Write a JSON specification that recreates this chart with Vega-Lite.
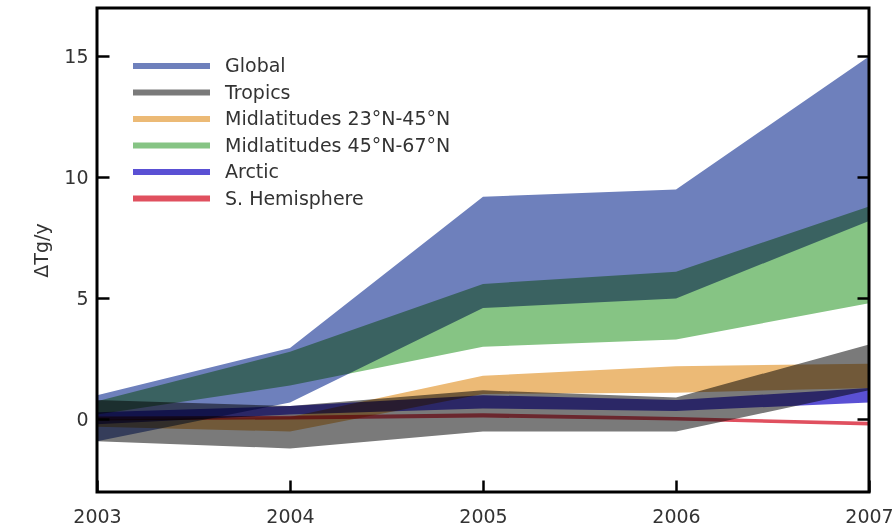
{
  "$schema": "https://vega.github.io/schema/vega-lite/v6.json",
  "width": 772,
  "height": 484,
  "autosize": {"type": "none"},
  "padding": {"left": 97, "top": 8, "right": 24, "bottom": 35},
  "background": "white",
  "config": {
    "view": {"stroke": "black", "strokeWidth": 3},
    "font": "DejaVu Sans",
    "axis": {
      "grid": false,
      "domain": false,
      "tickColor": "black",
      "tickWidth": 2.5,
      "labelFont": "DejaVu Sans",
      "labelFontSize": 19,
      "labelColor": "#333333",
      "titleFont": "DejaVu Sans",
      "titleFontSize": 19,
      "titleFontWeight": "normal",
      "titleColor": "#333333"
    }
  },
  "data": {
    "values": [
      {"region": "Global", "year": 2003, "lo": -0.9, "hi": 1.0},
      {"region": "Global", "year": 2004, "lo": 0.7, "hi": 2.95},
      {"region": "Global", "year": 2005, "lo": 4.6, "hi": 9.2},
      {"region": "Global", "year": 2006, "lo": 5.0, "hi": 9.5},
      {"region": "Global", "year": 2007, "lo": 8.2, "hi": 15.0},
      {"region": "Tropics", "year": 2003, "lo": -0.9, "hi": 0.8},
      {"region": "Tropics", "year": 2004, "lo": -1.2, "hi": 0.55},
      {"region": "Tropics", "year": 2005, "lo": -0.5, "hi": 1.2},
      {"region": "Tropics", "year": 2006, "lo": -0.5, "hi": 0.9},
      {"region": "Tropics", "year": 2007, "lo": 1.2, "hi": 3.1},
      {"region": "Midlatitudes 23°N-45°N", "year": 2003, "lo": -0.3, "hi": 0.0},
      {"region": "Midlatitudes 23°N-45°N", "year": 2004, "lo": -0.5, "hi": 0.1},
      {"region": "Midlatitudes 23°N-45°N", "year": 2005, "lo": 1.05, "hi": 1.8},
      {"region": "Midlatitudes 23°N-45°N", "year": 2006, "lo": 1.1, "hi": 2.2},
      {"region": "Midlatitudes 23°N-45°N", "year": 2007, "lo": 1.3, "hi": 2.3},
      {"region": "Midlatitudes 45°N-67°N", "year": 2003, "lo": 0.2, "hi": 0.75},
      {"region": "Midlatitudes 45°N-67°N", "year": 2004, "lo": 1.4, "hi": 2.8},
      {"region": "Midlatitudes 45°N-67°N", "year": 2005, "lo": 3.0, "hi": 5.6},
      {"region": "Midlatitudes 45°N-67°N", "year": 2006, "lo": 3.3, "hi": 6.1},
      {"region": "Midlatitudes 45°N-67°N", "year": 2007, "lo": 4.8, "hi": 8.8},
      {"region": "Arctic", "year": 2003, "lo": -0.2, "hi": 0.3},
      {"region": "Arctic", "year": 2004, "lo": 0.2, "hi": 0.55},
      {"region": "Arctic", "year": 2005, "lo": 0.45, "hi": 1.0},
      {"region": "Arctic", "year": 2006, "lo": 0.35, "hi": 0.8},
      {"region": "Arctic", "year": 2007, "lo": 0.7, "hi": 1.3},
      {"region": "S. Hemisphere", "year": 2003, "lo": -0.05, "hi": 0.12},
      {"region": "S. Hemisphere", "year": 2004, "lo": 0.0, "hi": 0.15},
      {"region": "S. Hemisphere", "year": 2005, "lo": 0.08, "hi": 0.25},
      {"region": "S. Hemisphere", "year": 2006, "lo": -0.05, "hi": 0.1},
      {"region": "S. Hemisphere", "year": 2007, "lo": -0.25, "hi": -0.1}
    ]
  },
  "layer": [
    {
      "mark": {"type": "area", "blend": "multiply", "interpolate": "linear"},
      "encoding": {
        "x": {
          "field": "year",
          "type": "quantitative",
          "scale": {"domain": [2003, 2007], "nice": false, "zero": false},
          "axis": {"title": null, "values": [2003, 2004, 2005, 2006, 2007], "format": "d", "tickSize": -12, "labelPadding": 27, "labelFlush": false}
        },
        "y": {
          "field": "lo",
          "type": "quantitative",
          "scale": {"domain": [-3, 17], "nice": false, "zero": false},
          "axis": {"title": "ΔTg/y", "orient": "left", "values": [0, 5, 10, 15], "tickSize": -12, "labelPadding": 21, "titlePadding": 12}
        },
        "y2": {"field": "hi"},
        "color": {
          "field": "region",
          "type": "nominal",
          "scale": {
            "domain": ["Global", "Tropics", "Midlatitudes 23°N-45°N", "Midlatitudes 45°N-67°N", "Arctic", "S. Hemisphere"],
            "range": ["#6e80bc", "#7a7a7a", "#ecba76", "#86c484", "#5a50d4", "#e0505f"]
          },
          "legend": {
            "title": null,
            "orient": "none",
            "legendX": 61.5,
            "legendY": 45,
            "padding": 0,
            "symbolType": "M-3.85,0H3.85",
            "symbolSize": 400,
            "symbolStrokeWidth": 6,
            "labelFontSize": 19,
            "labelFont": "DejaVu Sans",
            "labelColor": "#333333",
            "labelOffset": 40.5,
            "labelLimit": 400,
            "rowPadding": 1.5,
            "encode": {
              "symbols": {"update": {"stroke": {"scale": "color", "field": "value"}, "strokeWidth": {"value": 6}, "fillOpacity": {"value": 0}}}
            }
          }
        }
      }
    },
    {
      "mark": {"type": "point", "opacity": 0},
      "encoding": {
        "x": {"field": "year", "type": "quantitative"},
        "y": {
          "field": "hi",
          "type": "quantitative",
          "axis": {"title": null, "orient": "right", "values": [0, 5, 10, 15], "labels": false, "tickSize": -12}
        }
      }
    }
  ],
  "resolve": {"axis": {"y": "independent"}}
}
